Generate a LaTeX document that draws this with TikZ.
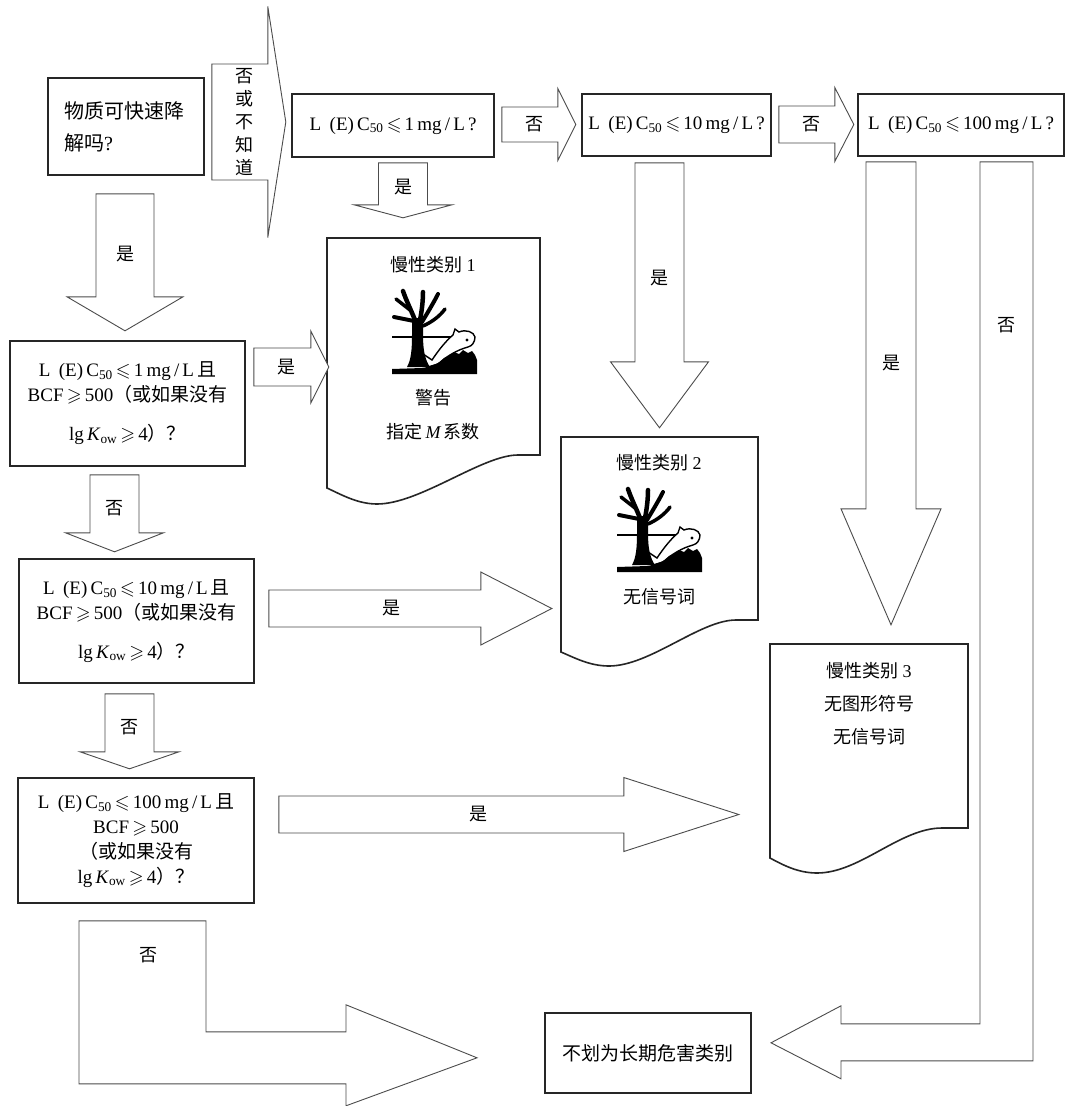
\documentclass[tikz,border=0pt]{standalone}
\usepackage{amssymb}
\usepackage{fontspec}
\setmainfont{Liberation Serif}
\newfontfamily\cjk{Noto Sans CJK SC}
\usetikzlibrary{calc}

\tikzset{
    qbox/.style={draw=black!85, line width=1.6pt, fill=white, inner sep=0pt, align=center,
        font=\fontsize{19}{25}\selectfont},
    doc/.style={draw=black!85, line width=1.6pt, fill=white},
    doctxt/.style={inner sep=0pt, align=center, font=\cjk\fontsize{18}{33}\selectfont},
    barrow/.style={draw=black!70, line width=0.9pt, fill=white},
    arrtxt/.style={inner sep=0pt, align=center, font=\cjk\fontsize{18}{23}\selectfont},
    branch/.style={line width=#1, line cap=round},
    pics/downarr/.style n args={5}{code={
        \draw[barrow] (-#1,0) -- (#1,0) -- (#1,#3) -- (#2,#3) -- (0,#3+#4)
            -- (-#2,#3) -- (-#1,#3) -- cycle;
        \node[arrtxt] (-t) at (0,0.58*#3) {#5};
    }},
    pics/rightarr/.style n args={5}{code={
        \draw[barrow] (0,-#1) -- (#3,-#1) -- (#3,-#2) -- (#3+#4,0)
            -- (#3,#2) -- (#3,#1) -- (0,#1) -- cycle;
        \node[arrtxt] (-t) at (0.58*#3,0) {#5};
    }},
    pics/envsign/.style={code={
        \draw[line width=1.3pt] (0,47) -- (70,47);
        \filldraw[fill=white, draw=black, line width=1.4pt] (46,74) -- (36,77) -- (31,64) -- (40,70)
            .. controls (48,58) and (55,50) .. (61,45) -- (63,39) -- (67,42)
            .. controls (74,39) and (82,42) .. (83,47) .. controls (83,52) and (80,56) .. (76,57)
            .. controls (65,60) and (55,66) .. (46,74) -- cycle;
        \fill[black] (75,50) circle (1.6pt);
        \fill[black] (0,84) -- (0,79) -- (30,78) .. controls (38,77) and (44,74) .. (48,72)
            -- (52,68) -- (57,66) -- (62,62) -- (67,64) -- (71,60) -- (76,63) -- (80,61)
            -- (83,65) -- (85,70) -- (85,84) -- cycle;
        \fill[black] (15,77) .. controls (19,70) and (20,60) .. (20,45) -- (20,28) -- (31,28) -- (31,45)
            .. controls (31,60) and (33,70) .. (38,77) -- cycle;
        \draw[branch=4.5pt] (23,30) .. controls (19,20) and (14,10) .. (11,1);
        \draw[branch=4.5pt] (28,30) .. controls (30,20) and (31,10) .. (31,2);
        \draw[branch=4pt] (30,32) .. controls (36,22) and (42,12) .. (46,4);
        \draw[branch=3.5pt] (18,20) -- (4,9);
        \draw[branch=4pt] (22,31) -- (2,27);
        \draw[branch=3.5pt] (31,36) .. controls (40,32) and (48,26) .. (53,19);
    }}
}

\begin{document}
\begin{tikzpicture}[x=1pt, y=-1pt]

    \useasboundingbox (0,0) rectangle (1069,1106);
    \fill[white] (0,0) rectangle (1069,1106);

    \node[qbox, minimum width=156pt, minimum height=97pt, text width=124pt, align=left,
        font=\cjk\fontsize{20}{32}\selectfont] (q0) at (126,126.5) {物质可快速降\\解吗{\rmfamily ?}};

    \node[qbox, minimum width=202pt, minimum height=63pt] (a1) at (393,125.5)
        {L\hspace{.45em}(E)\,C\textsubscript{50}\,$\leqslant$\,1\,mg\,/\,L\,?};
    \node[qbox, minimum width=189pt, minimum height=62pt] (a2) at (676.5,125)
        {L\hspace{.45em}(E)\,C\textsubscript{50}\,$\leqslant$\,10\,mg\,/\,L\,?};
    \node[qbox, minimum width=206pt, minimum height=62pt] (a3) at (961,125)
        {L\hspace{.45em}(E)\,C\textsubscript{50}\,$\leqslant$\,100\,mg\,/\,L\,?};

    \node[qbox, minimum width=235pt, minimum height=125pt] (b1) at (127.5,403.5)
        {L\hspace{.45em}(E)\,C\textsubscript{50}\,$\leqslant$\,1\,mg\,/\,L\,{\cjk 且}\\
         BCF\,$\geqslant$\,500{\cjk （或如果没有}\\[14pt]
         lg\,\textit{K}\textsubscript{ow}\,$\geqslant$\,4{\cjk ）？}};
    \node[qbox, minimum width=235pt, minimum height=124pt] (b2) at (136.5,621)
        {L\hspace{.45em}(E)\,C\textsubscript{50}\,$\leqslant$\,10\,mg\,/\,L\,{\cjk 且}\\
         BCF\,$\geqslant$\,500{\cjk （或如果没有}\\[14pt]
         lg\,\textit{K}\textsubscript{ow}\,$\geqslant$\,4{\cjk ）？}};
    \node[qbox, minimum width=236pt, minimum height=125pt] (b3) at (136,840.5)
        {L\hspace{.45em}(E)\,C\textsubscript{50}\,$\leqslant$\,100\,mg\,/\,L\,{\cjk 且}\\
         BCF\,$\geqslant$\,500\\
         {\cjk （或如果没有}\\
         lg\,\textit{K}\textsubscript{ow}\,$\geqslant$\,4{\cjk ）？}};

    \node[qbox, minimum width=206pt, minimum height=80pt, font=\cjk\fontsize{19}{23}\selectfont]
        (fin) at (648,1053) {不划为长期危害类别};

    \draw[doc] (327,238) -- (540,238) -- (540,455) -- (518,455)
        .. controls (482,455) and (420,504) .. (377,504)
        .. controls (358,504) and (342,495) .. (327,488) -- cycle;
    \node[doctxt] (c1t) at (433,265) {慢性类别 {\rmfamily 1}};
    \pic at (392,290) {envsign};
    \node[doctxt] (c1w) at (433,398) {警告};
    \node[doctxt] (c1m) at (433,432) {指定\,{\rmfamily\itshape M}\,系数};

    \draw[doc] (561,437) -- (758,437) -- (758,620) -- (736,620)
        .. controls (700,620) and (650,666) .. (609,666)
        .. controls (590,666) and (575,658) .. (561,652) -- cycle;
    \node[doctxt] (c2t) at (659,463) {慢性类别 {\rmfamily 2}};
    \pic at (617,488) {envsign};
    \node[doctxt] (c2w) at (659,597) {无信号词};

    \draw[doc] (770,644) -- (968,644) -- (968,828) -- (942,828)
        .. controls (900,828) and (860,873) .. (817,873)
        .. controls (798,873) and (783,865) .. (770,858) -- cycle;
    \node[doctxt] (c3t) at (869,704) {慢性类别 {\rmfamily 3}\\无图形符号\\无信号词};

    \pic (d1) at ($(q0.south)+(-1,18)$) {downarr={29}{58}{103}{34}{是}};
    \pic (r1) at ($(q0.east)+(7,-4.5)$) {rightarr={58}{115.5}{56}{18}{否\\或\\不\\知\\道}};
    \pic (d2) at ($(a1.south)+(10,5)$) {downarr={24.5}{49}{42}{13}{是}};
    \pic (r2) at ($(a1.east)+(7,-1)$) {rightarr={17.5}{36}{56}{18}{否}};
    \pic (r3) at ($(a2.east)+(7,-0.5)$) {rightarr={18.5}{37}{56}{19}{否}};
    \pic (d3) at ($(a2.south)+(-17,6)$) {downarr={24.5}{49}{199}{66}{是}};
    \pic (d4) at ($(a3.south)+(-70,5)$) {downarr={25}{50}{347}{116}{是}};
    \pic (r4) at ($(b1.east)+(8,-36.5)$) {rightarr={19}{36}{57}{18}{是}};
    \pic (d5) at ($(b1.south)+(-13,8)$) {downarr={24.5}{49}{58}{19}{否}};
    \pic (r5) at ($(b2.east)+(14,-12.5)$) {rightarr={18.5}{36.5}{212}{71}{是}};
    \pic (d6) at ($(b2.south)+(-7,10)$) {downarr={24.5}{49.5}{58}{17}{否}};
    \pic (r6) at ($(b3.east)+(24,-26)$) {rightarr={18.5}{37}{345}{115}{是}};

    \draw[barrow] ($(a3.south)+(19,5)$) -- ++(53,0) -- ++(0,899) -- ++(-192,0) -- ++(0,18)
        -- ++(-70,-36) -- ++(70,-37) -- ++(0,18) -- ++(139,0) -- cycle;
    \node[arrtxt] (nb) at (1006,325) {否};

    \draw[barrow] ($(b3.south)+(-57,17)$) -- ++(127,0) -- ++(0,111) -- ++(140,0) -- ++(0,-27)
        -- ++(131,53) -- ++(-131,48) -- ++(0,-22) -- ++(-267,0) -- cycle;
    \node[arrtxt] (nl) at (148,955) {否};

\end{tikzpicture}
\end{document}
